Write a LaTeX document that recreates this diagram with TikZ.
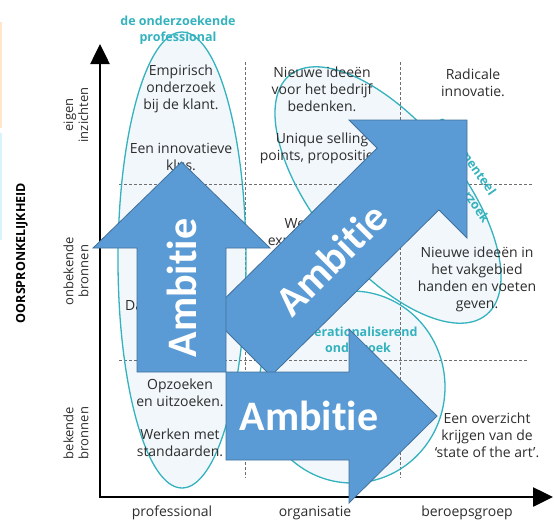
\documentclass[tikz,border=0pt]{standalone}
\usepackage{fontspec}
\setmainfont{Open Sans}
\newfontfamily\arrowfont[Ligatures=NoCommon]{Carlito}
\usetikzlibrary{arrows.meta}
\definecolor{tealc}{RGB}{52,178,190}
\definecolor{ellfill}{RGB}{241,247,251}
\definecolor{arrfill}{RGB}{91,155,213}
\definecolor{arrline}{RGB}{65,113,156}
\definecolor{txt}{RGB}{45,45,45}
\definecolor{dashc}{RGB}{110,110,110}
\begin{document}
\begin{tikzpicture}[x=1pt,y=-1pt,
 body/.style={text=txt, font=\fontsize{14}{17}\selectfont, align=center, inner sep=0pt},
 ylab/.style={text=txt, font=\fontsize{13}{15}\selectfont, align=center, inner sep=0pt, rotate=90},
 tlabel/.style={text=tealc, font=\bfseries\fontsize{12.5}{16.5}\selectfont, align=center, inner sep=0pt},
 ell/.style={draw=tealc, line width=1.3pt},
 gridline/.style={draw=dashc, dash pattern=on 3pt off 2pt, line width=0.9pt},
 bigarrow/.style={fill=arrfill, draw=arrline, line width=0.8pt, line join=miter},
 amb/.style={text=white, font=\arrowfont\bfseries\fontsize{42}{42}\selectfont, inner sep=0pt},
 axisline/.style={line width=2.6pt, draw=black}
]
\useasboundingbox (0,0) rectangle (554,523);
% left edge strips
\fill[orange!20] (0,22) rectangle (2,128);
\fill[cyan!15] (0,133) rectangle (2,240);

% ellipse fills
\fill[ellfill] (182,260) ellipse [x radius=64, y radius=228];
\fill[ellfill, rotate around={-50.6:(388,195)}] (388,195) ellipse [x radius=155, y radius=72];
\fill[ellfill] (352,387) ellipse [x radius=93, y radius=96];

% grid
\coordinate (v1t) at (245,62); \coordinate (v1b) at (245,478);
\coordinate (v2t) at (400,62); \coordinate (v2b) at (400,478);
\coordinate (h1l) at (119,184); \coordinate (h1r) at (533,184);
\coordinate (h2l) at (119,360); \coordinate (h2r) at (528,360);
\draw[gridline] (v1t) -- (v1b);
\draw[gridline] (v2t) -- (v2b);
\draw[gridline] (h1l) -- (h1r);
\draw[gridline] (h2l) -- (h2r);

% ellipse outlines
\draw[ell] (182,260) ellipse [x radius=64, y radius=228];
\draw[ell, rotate around={-50.6:(388,195)}] (388,195) ellipse [x radius=155, y radius=72];
\draw[ell] (352,387) ellipse [x radius=93, y radius=96];

% teal labels
\node[tlabel] (lprof) at (178,30) {de onderzoekende\\professional};
\node[tlabel] (lop) at (358,340) {operationaliserend\\onderzoek};
\node[tlabel, rotate=-55] (lexp1) at (466,157) {experimenteel};
\node[tlabel, rotate=-55] (lexp2) at (468,194) {onderzoek};

% cell texts
\node[body] (emp) at (181,89) {Empirisch\\onderzoek\\bij de klant.};
\node[body] (klus) at (181,157) {Een innovatieve\\klus.};
\node[body] (nieuw) at (322,89) {Nieuwe ideeën\\voor het bedrijf\\bedenken.};
\node[body] (usp) at (322,148) {Unique selling\\points, proposities.};
\node[body] (rad) at (473,83) {Radicale\\innovatie.};
\node[body] (werk) at (322,233) {Werkwijzen\\experimenteren.};
\node[body] (data) at (182,305) {Data verzamelen.};
\node[body] (vak) at (477,279) {Nieuwe ideeën in\\het vakgebied\\handen en voeten\\geven.};
\node[body] (opz) at (180,393) {Opzoeken\\en uitzoeken.};
\node[body] (std) at (180,443) {Werken met\\standaarden.};
\node[body] (ovz) at (487,435) {Een overzicht\\krijgen van de\\‘state of the art’.};

% axis labels
\node[body] (xl1) at (172,513) {professional};
\node[body] (xl2) at (315,513) {organisatie};
\node[body] (xl3) at (467,513) {beroepsgroep};
\node[ylab] (yl1) at (76,115) {eigen\\inzichten};
\node[ylab] (yl2) at (76,271) {onbekende\\bronnen};
\node[ylab] (yl3) at (76,433) {bekende\\bronnen};
\node[text=black, font=\bfseries\fontsize{12.5}{12.5}\selectfont, rotate=90, inner sep=0pt] (yt) at (22,253) {OORSPRONKELIJKHEID};

% axes
\coordinate (ytip) at (100,44);
\coordinate (xtip) at (553,497);
\draw[axisline, {Triangle[width=19pt,length=20pt]}-{Triangle[width=19pt,length=20pt]}] (ytip) |- (xtip);

% diagonal arrow
\draw[bigarrow] (209.1,314.1) -- (377.1,148.1) -- (349,120) -- (467,120) -- (467,238) -- (438.9,209.9) -- (270.9,375.9) -- cycle;
\node[amb, rotate=45] (adiag) at (331,259) {Ambitie};

% vertical arrow
\draw[bigarrow] (137,372) -- (137,248) -- (93,248) -- (181.5,162) -- (270,248) -- (226,248) -- (226,372) -- cycle;
\node[amb, rotate=90] (avert) at (182,288) {Ambitie};

% horizontal arrow
\draw[bigarrow] (226,372) -- (349,372) -- (349,329) -- (437,416) -- (349,503) -- (349,460) -- (226,460) -- cycle;
\node[amb] (ahor) at (309,416) {Ambitie};
\end{tikzpicture}
\end{document}
